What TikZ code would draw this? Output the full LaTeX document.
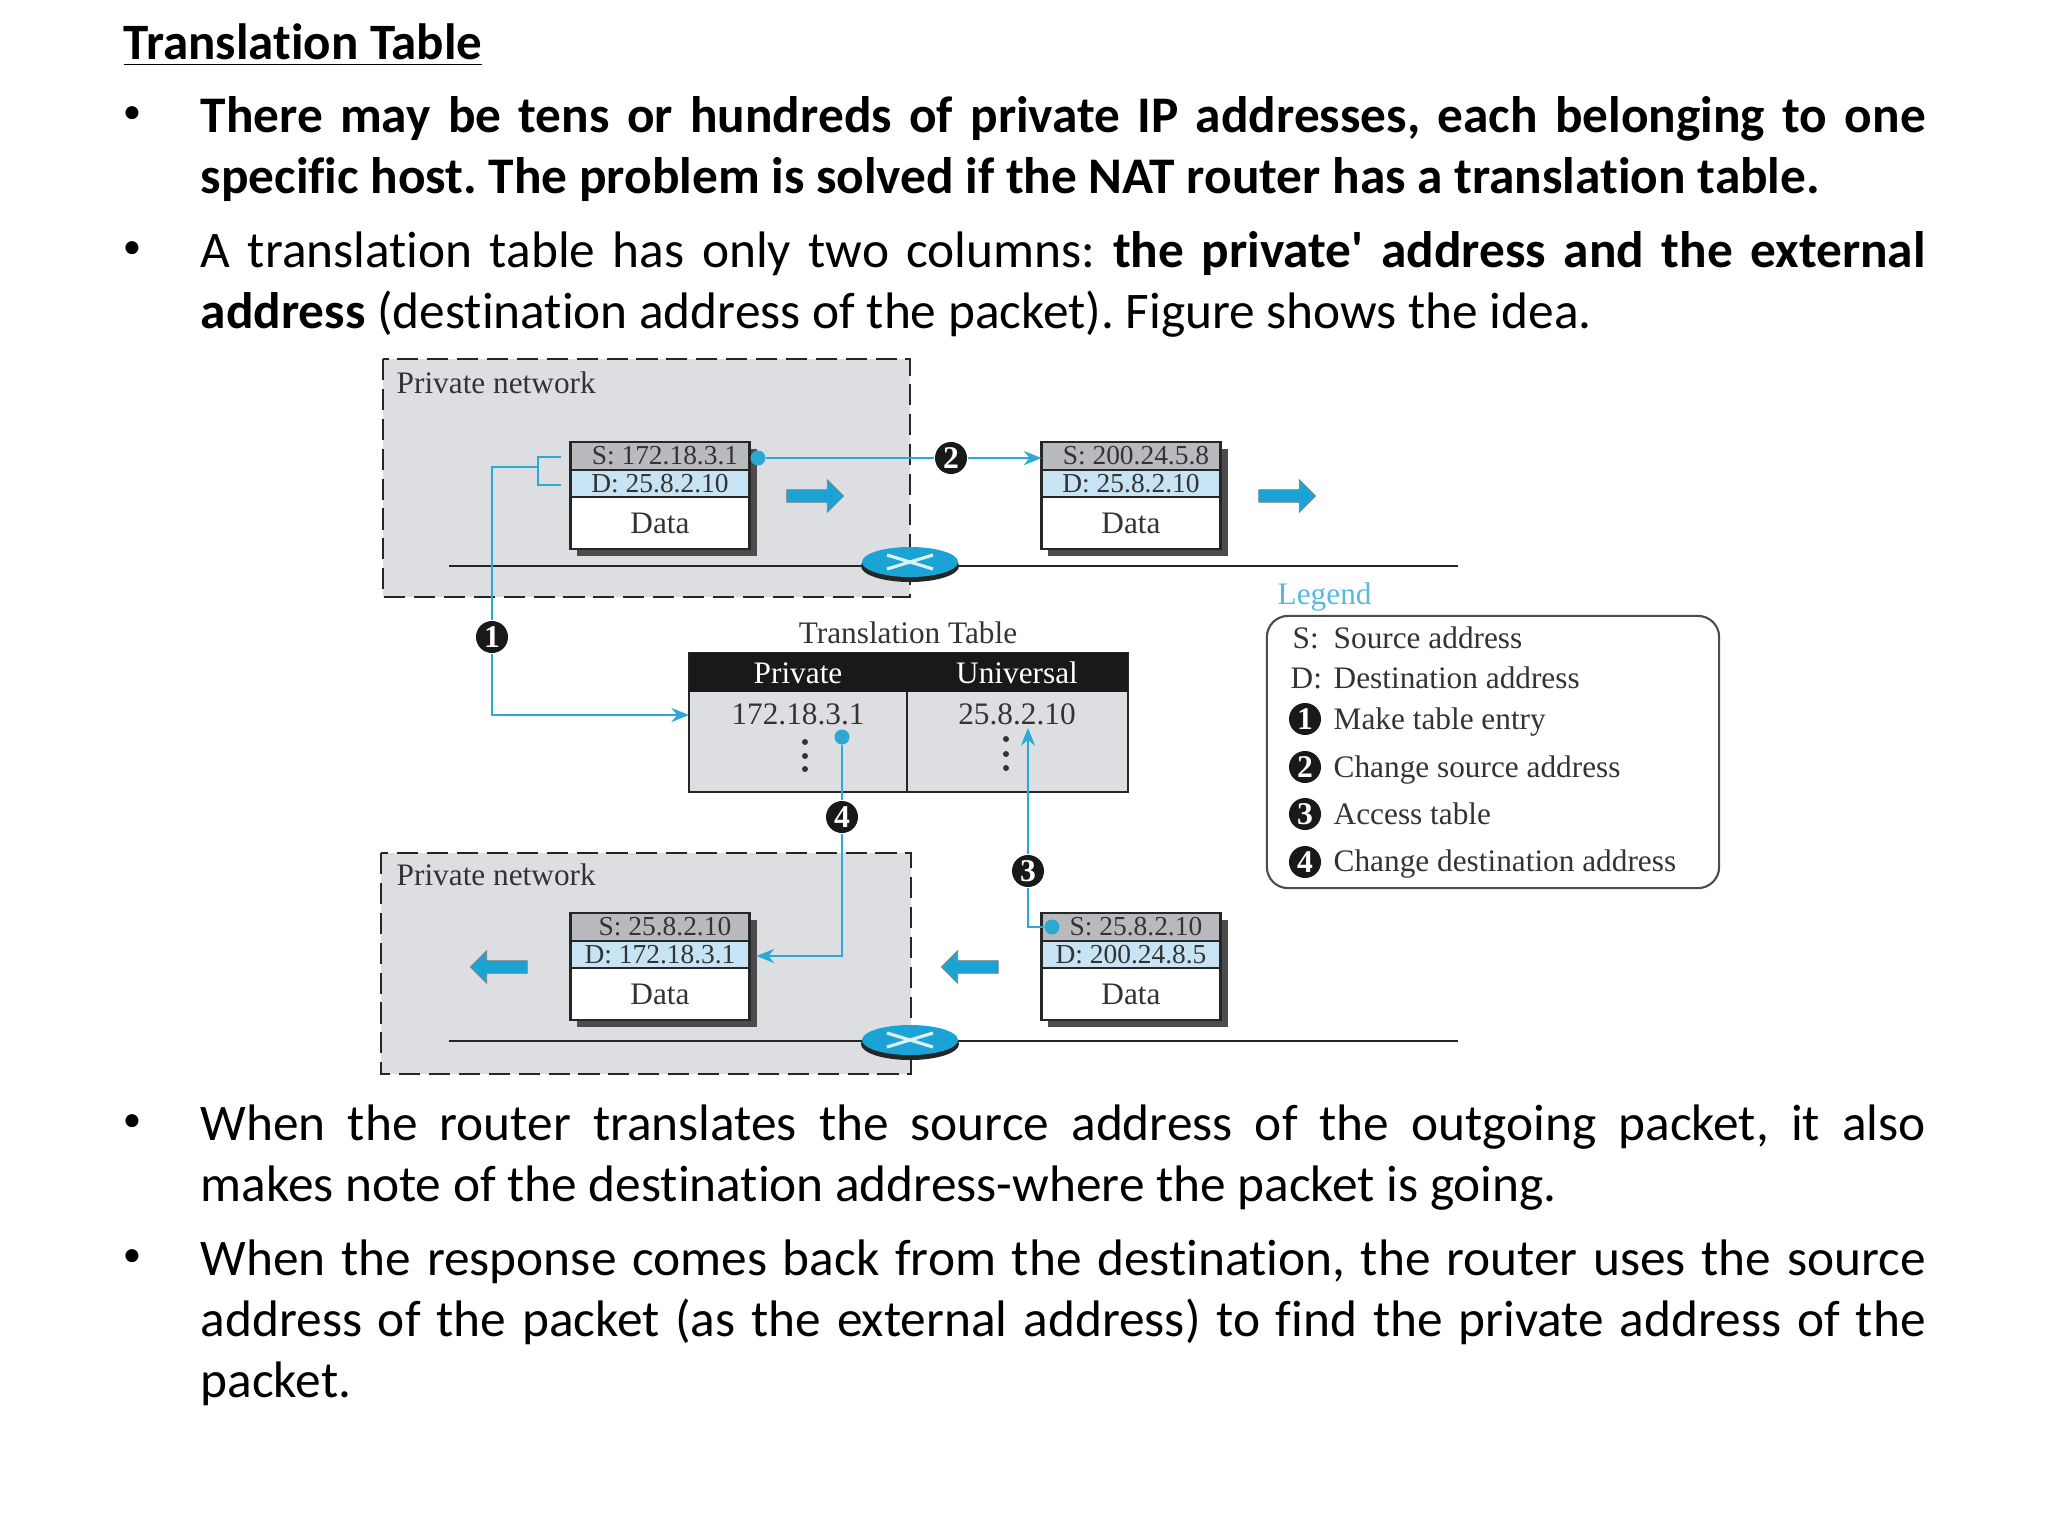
\documentclass[tikz,border=0pt]{standalone}
\usepackage{fontspec}
\setmainfont[Ligatures={TeXOff,NoCommon}]{Carlito}
\newfontfamily\figfont{Liberation Serif}
\usetikzlibrary{positioning, shapes.geometric, shapes.arrows, arrows.meta, calc}
\definecolor{netgray}{HTML}{DDDEE2}
\definecolor{srcgray}{HTML}{B9BABE}
\definecolor{dstblue}{HTML}{C6E4F3}
\definecolor{wirecyan}{HTML}{2BA9D2}
\definecolor{routercyan}{HTML}{1CA3D6}
\definecolor{inkgray}{HTML}{333333}
\tikzset{
  para/.style={
    anchor=north west, inner sep=0pt, text width=17.24cm, align=justify,
    font=\fontsize{14.6}{17.4}\selectfont\frenchspacing
  },
  bulletmark/.style={inner sep=0pt, font=\fontsize{10.5}{12}\selectfont},
  netbox/.style={draw=black!85, dashed, line width=0.7pt, fill=netgray, dash pattern=on 6pt off 2.5pt},
  nettext/.style={anchor=west, inner sep=0pt, text=inkgray, font=\figfont\fontsize{8.9}{10}\selectfont},
  plainlabel/.style={inner sep=0pt, text=inkgray, font=\figfont\fontsize{8.9}{10}\selectfont},
  addrrow/.style={
    draw=black!85, line width=0.7pt, minimum width=1.79cm, inner sep=0pt, outer sep=0pt,
    text=inkgray, font=\figfont\fontsize{7.8}{9}\selectfont
  },
  shadowbox/.style={fill=black!70, minimum width=1.79cm, minimum height=1.07cm, inner sep=0pt, outer sep=0pt},
  wireline/.style={line width=0.8pt, draw=black!85},
  link/.style={draw=wirecyan, line width=0.75pt},
  linkarrow/.style={link, -{Stealth[length=5pt,width=4pt]}},
  blockarrow/.style={
    single arrow, draw=black!50, line width=0.2pt, fill=routercyan,
    minimum height=0.57cm, minimum width=0.28cm, inner sep=0.06cm,
    single arrow head extend=0.1cm
  },
  numdot/.style={
    circle, fill=black!90, text=white, inner sep=0pt, minimum size=0.32cm,
    font=\figfont\bfseries\fontsize{9}{10}\selectfont
  },
  linkdot/.style={circle, fill=wirecyan, inner sep=0pt, minimum size=0.15cm},
  tablehead/.style={inner sep=0pt, text=white, font=\figfont\fontsize{8.9}{10}\selectfont},
  tabledot/.style={circle, fill=black!80, inner sep=0pt, minimum size=0.06cm},
  legendtext/.style={anchor=base west, inner sep=0pt, text=inkgray, font=\figfont\fontsize{8.9}{10}\selectfont}
}

\begin{document}
\begin{tikzpicture}[x=0.01cm, y=-0.01cm]
\useasboundingbox (0,0) rectangle (2048,1536);

%% Slide text
\node[anchor=west, inner sep=0pt, font=\fontsize{14.5}{17.4}\selectfont\bfseries] (title) at (123,45) {\underline{Translation Table}};
\node[bulletmark] (b1) at (132,115) {•};
\node[bulletmark] (b2) at (132,250) {•};
\node[bulletmark] (b3) at (132,1123) {•};
\node[bulletmark] (b4) at (132,1258) {•};
\node[para] (p1) at (200,96) {\textbf{There may be tens or hundreds of private IP addresses, each belonging to one\linebreak specific host. The problem is solved if the NAT router has a translation table.}};
\node[para] (p2) at (200,231) {A translation table has only two columns: \textbf{the private' address and the external\linebreak address} (destination address of the packet). Figure shows the idea.};
\node[para] (p3) at (200,1104) {When the router translates the source address of the outgoing packet, it also\linebreak makes note of the destination address-where the packet is going.};
\node[para] (p4) at (200,1239) {When the response comes back from the destination, the router uses the source\linebreak address of the packet (as the external address) to find the private address of the\linebreak packet.};

%% Private networks
\draw[netbox] (383,359) rectangle (910,597);
\draw[netbox] (381,853) rectangle (911,1074);
\node[nettext] (netA) at (396,383) {Private network};
\node[nettext] (netB) at (396,875) {Private network};

%% Wires and routers
\coordinate (wireAl) at (449,566);
\coordinate (wireAr) at (1458,566);
\coordinate (wireBl) at (449,1041);
\coordinate (wireBr) at (1458,1041);
\draw[wireline] (wireAl) -- (wireAr);
\draw[wireline] (wireBl) -- (wireBr);
\foreach \rt/\ry in {rtA/564, rtB/1042} {
  \node[ellipse, fill=black!85, minimum width=0.98cm, minimum height=0.32cm, inner sep=0pt] (\rt s) at (910,\ry+2) {};
  \node[ellipse, fill=routercyan, minimum width=0.96cm, minimum height=0.3cm, inner sep=0pt] (\rt) at (910,\ry-2) {};
  \draw[white!85!routercyan, line width=0.9pt] ($(\rt)+(-23,-7)$) -- ($(\rt)+(23,7)$);
  \draw[white!85!routercyan, line width=0.9pt] ($(\rt)+(-23,7)$) -- ($(\rt)+(23,-7)$);
}

%% Packets
\foreach \pk/\px/\py/\src/\dst in {
  pA/660/442/S: 172.18.3.1/D: 25.8.2.10,
  pB/1131/442/S: 200.24.5.8/D: 25.8.2.10,
  pC/660/913/S: 25.8.2.10/D: 172.18.3.1,
  pD/1131/913/S: 25.8.2.10/D: 200.24.8.5} {
  \node[shadowbox, anchor=north] (\pk sh) at (\px+7,\py+7) {};
  \node[addrrow, anchor=north, fill=srcgray, minimum height=0.28cm] (\pk s) at (\px,\py) {\hspace{0.1cm}\src};
  \node[addrrow, anchor=north, fill=dstblue, minimum height=0.27cm] (\pk d) at (\pk s.south) {\dst};
  \node[addrrow, anchor=north, fill=white, minimum height=0.52cm, font=\figfont\fontsize{8.9}{10}\selectfont] (\pk x) at (\pk d.south) {Data};
}

%% Direction arrows
\node[blockarrow] (mvA) at (812,496) {};
\node[blockarrow] (mvB) at (1284,496) {};
\node[blockarrow, shape border rotate=180] (mvC) at (502,967) {};
\node[blockarrow, shape border rotate=180] (mvD) at (973,967) {};

%% Translation table
\node[plainlabel] (ttitle) at (908,633) {Translation Table};
\draw[fill=netgray, draw=black!85, line width=0.7pt] (689,653) rectangle (1128,792);
\fill[black!90] (689,653) rectangle (1128,692);
\draw[draw=black!85, line width=0.7pt] (907,692) -- (907,792);
\node[tablehead] (thA) at (798,673) {Private};
\node[tablehead] (thB) at (1017,673) {Universal};
\node[plainlabel] (tcA) at (798,714) {172.18.3.1};
\node[plainlabel] (tcB) at (1017,714) {25.8.2.10};
\foreach \tx/\ty in {805/742, 805/756, 805/769, 1006/739, 1006/754, 1006/768}
  \node[tabledot] at (\tx,\ty) {};

%% Links
\node[numdot] (n1) at (492,637) {1};
\node[numdot] (n2) at (951,458) {2};
\node[numdot] (n3) at (1028,871) {3};
\node[numdot] (n4) at (842,817) {4};
\node[linkdot] (dotA) at (758,458) {};
\node[linkdot] (dotB) at (842,737) {};
\node[linkdot] (dotC) at (1052,927) {};
\coordinate (brk) at (538,467);
\coordinate (brkS) at (561,457);
\coordinate (brkD) at (561,485);
\coordinate (brkSc) at (538,457);
\coordinate (brkDc) at (538,485);
\coordinate (entry) at (492,715);
\coordinate (tipB) at (1028,728);
\coordinate (turnC) at (1028,927);
\coordinate (turnD) at (842,956);
\draw[link] (brkS) -- (brkSc) -- (brkDc) -- (brkD);
\draw[link] (brk) -| (n1.north);
\draw[linkarrow] (n1.south) -- (entry) -- (entry -| 689,0);
\draw[link] (dotA) -- (n2.west);
\draw[linkarrow] (n2.east) -- (n2 -| pBs.west);
\draw[link] (dotC) -- (turnC) -- (n3.south);
\draw[linkarrow] (n3.north) -- (tipB);
\draw[link] (dotB) -- (n4.north);
\draw[linkarrow] (n4.south) -- (turnD) -- (turnD -| pCsh.east);

%% Legend
\node[anchor=west, inner sep=0pt, text=wirecyan!80, font=\figfont\fontsize{8.9}{10}\selectfont] (lgtitle) at (1277,597) {Legend};
\node[draw=black!70, rounded corners=6pt, line width=0.6pt, minimum width=4.52cm, minimum height=2.72cm, inner sep=0pt] (lgbox) at (1493,752) {};
\node[legendtext] (lgS) at (1292,648) {S:};
\node[legendtext] (lgD) at (1290,688) {D:};
\node[legendtext] (ltS) at (1333,648) {Source address};
\node[legendtext] (ltD) at (1333,688) {Destination address};
\foreach \n/\ly/\by/\txt in {1/719/729/Make table entry, 2/767/777/Change source address, 3/814/824/Access table, 4/862/871/Change destination address} {
  \node[numdot] (lg\n) at (1305,\ly) {\n};
  \node[legendtext] (lt\n) at (1333,\by) {\txt};
}
\end{tikzpicture}
\end{document}
